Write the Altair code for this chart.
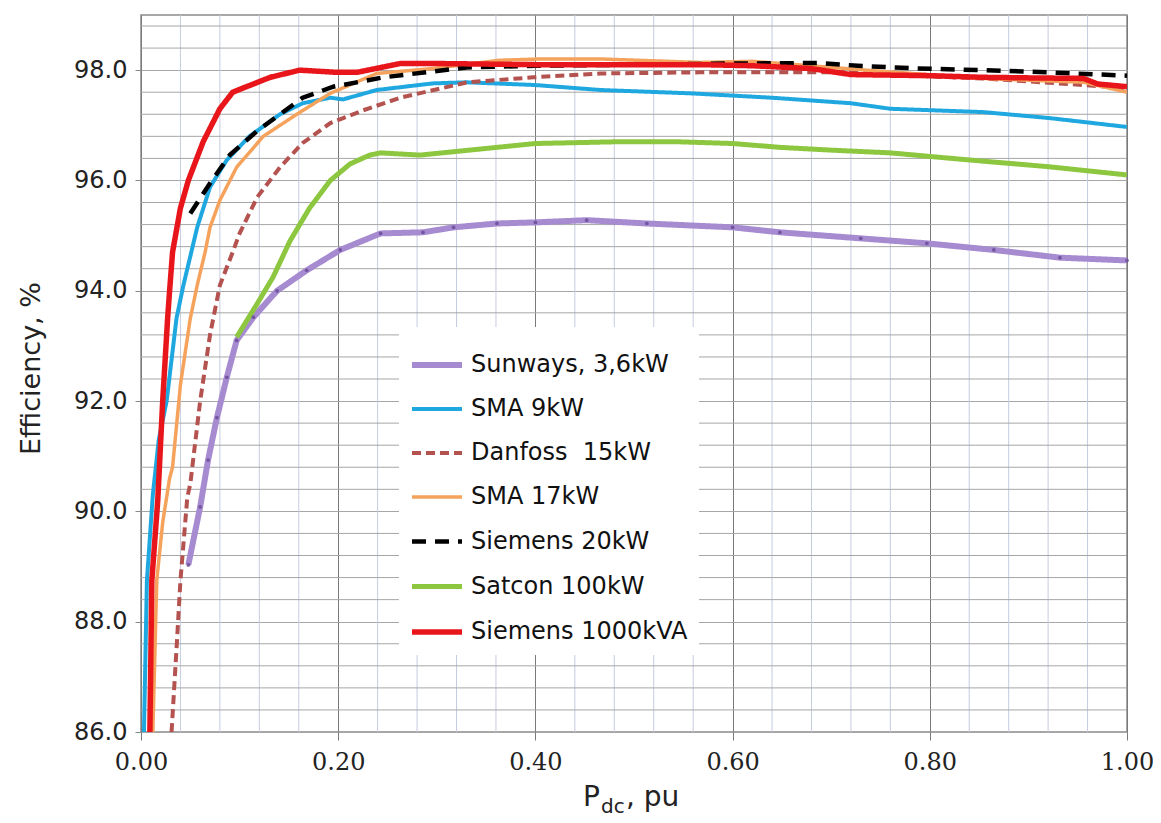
import altair as alt
import pandas as pd

# ---- data ----
series_order = ["Sunways, 3,6kW", "SMA 9kW", "Danfoss \u00a015kW", "SMA 17kW",
                "Siemens 20kW", "Satcon 100kW", "Siemens 1000kVA"]

sunways_x = [0.048, 0.060, 0.068, 0.077, 0.087, 0.097, 0.114, 0.138, 0.168, 0.202, 0.243,
             0.286, 0.317, 0.361, 0.40, 0.452, 0.513, 0.60, 0.648, 0.73, 0.797, 0.865, 0.932, 1.0]
sunways_y = [89.03, 90.08, 90.93, 91.7, 92.43, 93.1, 93.52, 94.0, 94.37, 94.74, 95.04,
             95.06, 95.15, 95.22, 95.24, 95.28, 95.22, 95.15, 95.06, 94.95, 94.86, 94.74, 94.6, 94.55]

sma9_x = [0.003, 0.006, 0.012, 0.018, 0.026, 0.036, 0.043, 0.051, 0.057, 0.070, 0.087, 0.11,
          0.141, 0.164, 0.192, 0.205, 0.239, 0.296, 0.33, 0.40, 0.466, 0.557, 0.64, 0.72, 0.76,
          0.854, 0.922, 1.0]
sma9_y = [86.0, 88.75, 90.3, 91.3, 92.0, 93.5, 94.1, 94.7, 95.15, 95.88, 96.37, 96.8,
          97.2, 97.4, 97.5, 97.47, 97.64, 97.76, 97.78, 97.73, 97.64, 97.58, 97.5, 97.4, 97.3,
          97.24, 97.13, 96.97]

danfoss_x = [0.031, 0.036, 0.040, 0.047, 0.050, 0.060, 0.070, 0.080, 0.093, 0.10, 0.118, 0.141,
             0.164, 0.192, 0.225, 0.263, 0.331, 0.398, 0.466, 0.567, 0.65, 0.72, 0.75, 0.854,
             0.956, 1.0]
danfoss_y = [86.0, 87.5, 88.75, 90.26, 90.5, 92.0, 93.2, 94.1, 94.7, 95.04, 95.7, 96.24,
             96.68, 97.04, 97.27, 97.5, 97.78, 97.87, 97.94, 97.96, 97.96, 97.96, 97.92, 97.85,
             97.73, 97.67]

sma17_x = [0.012, 0.016, 0.022, 0.029, 0.032, 0.040, 0.050, 0.057, 0.065, 0.070, 0.080, 0.097,
           0.124, 0.158, 0.192, 0.239, 0.296, 0.364, 0.40, 0.47, 0.567, 0.62, 0.679, 0.75,
           0.854, 0.956, 1.0]
sma17_y = [86.0, 88.75, 89.8, 90.6, 90.8, 92.3, 93.5, 94.1, 94.7, 95.15, 95.64, 96.24,
           96.8, 97.2, 97.58, 97.94, 98.03, 98.18, 98.2, 98.2, 98.14, 98.16, 98.08, 97.98,
           97.85, 97.78, 97.6]

siemens20_x = [0.050, 0.070, 0.090, 0.118, 0.164, 0.195, 0.246, 0.33, 0.40, 0.50, 0.60,
               0.686, 0.727, 0.787, 0.854, 0.92, 1.0]
siemens20_y = [95.4, 95.95, 96.46, 96.9, 97.5, 97.7, 97.87, 98.05, 98.08, 98.1, 98.12,
               98.13, 98.08, 98.03, 98.0, 97.96, 97.9]

satcon_x = [0.097, 0.118, 0.134, 0.151, 0.171, 0.192, 0.212, 0.232, 0.243, 0.283, 0.361, 0.40,
            0.479, 0.547, 0.60, 0.648, 0.70, 0.76, 0.841, 0.92, 1.0]
satcon_y = [93.16, 93.77, 94.25, 94.9, 95.5, 96.0, 96.3, 96.46, 96.5, 96.46, 96.6, 96.67,
            96.7, 96.7, 96.67, 96.6, 96.55, 96.5, 96.37, 96.25, 96.1]

siemens1000_x = [0.009, 0.011, 0.017, 0.022, 0.027, 0.029, 0.032, 0.040, 0.048, 0.063, 0.080,
                 0.093, 0.107, 0.131, 0.161, 0.199, 0.219, 0.263, 0.30, 0.40, 0.50, 0.567,
                 0.62, 0.679, 0.72, 0.80, 0.854, 0.90, 0.956, 0.970, 1.0]
siemens1000_y = [86.0, 88.75, 90.2, 92.0, 93.5, 94.0, 94.7, 95.5, 96.0, 96.7, 97.3,
                 97.6, 97.7, 97.87, 98.0, 97.96, 97.96, 98.12, 98.12, 98.1, 98.1, 98.1,
                 98.08, 98.03, 97.92, 97.9, 97.87, 97.86, 97.85, 97.75, 97.7]

colors = ["#a78bd0", "#1fa7e0", "#b4524f", "#f5a35c", "#000000", "#8dc63f", "#e8161b"]
dashes = [[1, 0], [1, 0], [9, 5], [1, 0], [14, 9], [1, 0], [1, 0]]
widths = [6, 4, 4, 3.5, 4.5, 5, 5.5]

x_major = [0.0, 0.2, 0.4, 0.6, 0.8, 1.0]
x_minor = [0.04, 0.08, 0.12, 0.16, 0.24, 0.28, 0.32, 0.36, 0.44, 0.48, 0.52, 0.56,
           0.64, 0.68, 0.72, 0.76, 0.84, 0.88, 0.92, 0.96]
y_major = [86.0, 88.0, 90.0, 92.0, 94.0, 96.0, 98.0]
y_minor = [86.4, 86.8, 87.2, 87.6, 88.4, 88.8, 89.2, 89.6, 90.4, 90.8, 91.2, 91.6,
           92.4, 92.8, 93.2, 93.6, 94.4, 94.8, 95.2, 95.6, 96.4, 96.8, 97.2, 97.6,
           98.4, 98.8]

# ---- build table ----
xs_all = [sunways_x, sma9_x, danfoss_x, sma17_x, siemens20_x, satcon_x, siemens1000_x]
ys_all = [sunways_y, sma9_y, danfoss_y, sma17_y, siemens20_y, satcon_y, siemens1000_y]
rows = []
for name, xs, ys in zip(series_order, xs_all, ys_all):
    for i, (xv, yv) in enumerate(zip(xs, ys)):
        rows.append({"series": name, "p": xv, "eff": yv, "i": i})
df = pd.DataFrame(rows)

W, H = 986, 717
xscale = alt.Scale(domain=[0, 1], nice=False, zero=False)
yscale = alt.Scale(domain=[86, 99], nice=False, zero=False)

leg = alt.Legend(
    title=None, orient="none", legendX=258, legendY=312,
    symbolType="stroke", symbolSize=2500, labelFont="DejaVu Sans", labelFontSize=24,
    labelColor="#111111", labelOffset=6, rowPadding=5, padding=10,
    fillColor="white", strokeColor="white", labelLimit=400,
)

lines = alt.Chart(df).mark_line(clip=True).encode(
    x=alt.X("p:Q", scale=xscale,
            axis=alt.Axis(values=x_major, format=".2f", title=None, grid=True,
                          gridColor="#7a7a7a", gridWidth=1, tickColor="#7a7a7a",
                          tickSize=8, labelPadding=10, labelFont="DejaVu Serif",
                          labelFontSize=24, labelColor="#222222", domain=False,
                          labelFlush=False, labelOverlap=False)),
    y=alt.Y("eff:Q", scale=yscale,
            axis=alt.Axis(values=y_major, format=".1f", title="Efficiency, %",
                          grid=True, gridColor="#a6a6a6", gridWidth=1,
                          tickColor="#888888", tickSize=6, labelPadding=8,
                          labelFont="DejaVu Sans", labelFontSize=24, labelColor="#222222",
                          labelFlush=False, labelOverlap=False,
                          titleFont="DejaVu Sans", titleFontSize=27, titleFontWeight="normal",
                          titleColor="#222222", titleX=-110, titleY=353, titleAngle=270,
                          titleAlign="center", titleBaseline="middle", domain=False)),
    color=alt.Color("series:N", scale=alt.Scale(domain=series_order, range=colors), legend=leg),
    strokeDash=alt.StrokeDash("series:N", scale=alt.Scale(domain=series_order, range=dashes), legend=leg),
    strokeWidth=alt.StrokeWidth("series:N",
                                scale=alt.Scale(type="ordinal", domain=series_order, range=widths),
                                legend=leg),
    order="i:Q",
)

dots = alt.Chart(df[df["series"] == series_order[0]]).mark_point(
    filled=True, size=14, color="#6f4f9c", opacity=0.9
).encode(x=alt.X("p:Q", scale=xscale), y=alt.Y("eff:Q", scale=yscale))

vminor = alt.Chart(pd.DataFrame({"v": x_minor})).mark_rule(color="#c6cbe0", strokeWidth=1).encode(
    x=alt.X("v:Q", scale=xscale))
hminor = alt.Chart(pd.DataFrame({"v": y_minor})).mark_rule(color="#a6a6a6", strokeWidth=1).encode(
    y=alt.Y("v:Q", scale=yscale))

t_p = alt.Chart(pd.DataFrame({"t": ["P"]})).mark_text(
    align="left", baseline="alphabetic", font="DejaVu Sans", fontSize=28, color="#222222"
).encode(x=alt.value(442), y=alt.value(791), text="t:N")
t_dc = alt.Chart(pd.DataFrame({"t": ["dc"]})).mark_text(
    align="left", baseline="alphabetic", font="DejaVu Sans", fontSize=20, color="#222222"
).encode(x=alt.value(460), y=alt.value(798), text="t:N")
t_pu = alt.Chart(pd.DataFrame({"t": [", pu"]})).mark_text(
    align="left", baseline="alphabetic", font="DejaVu Sans", fontSize=28, color="#222222"
).encode(x=alt.value(485), y=alt.value(791), text="t:N")

chart = alt.layer(vminor, hminor, lines, dots, t_p, t_dc, t_pu).properties(
    width=W, height=H,
    autosize=alt.AutoSizeParams(type="none"),
    padding={"left": 133, "top": 7, "right": 26, "bottom": 100},
    background="white",
).configure_view(stroke="#8a8a8a", strokeWidth=1.5)

chart.save("out.html", embed_options={"renderer": "svg", "actions": False})
